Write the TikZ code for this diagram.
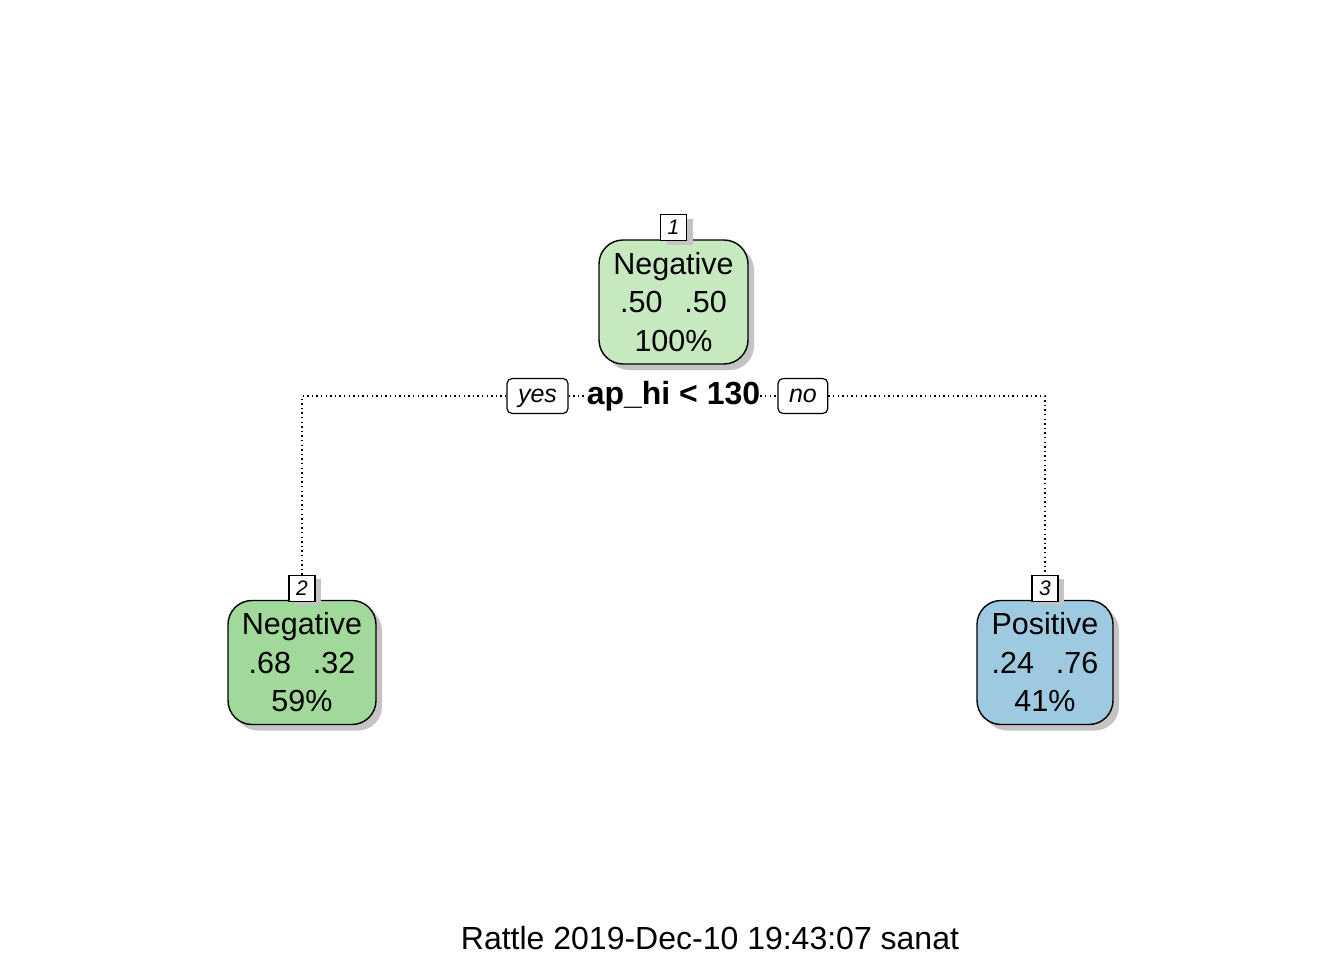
\documentclass[tikz,border=0pt]{standalone}
\usepackage{fontspec}
\setmainfont{Liberation Sans}
\usetikzlibrary{positioning, shadows}
\definecolor{leafpale}{HTML}{C7E9C0}
\definecolor{leafgreen}{HTML}{A1D99B}
\definecolor{leafblue}{HTML}{9ECAE1}
\definecolor{shadegray}{HTML}{C4C4C4}
\newcommand{\pgap}{\hspace{0.72em}}
\tikzset{
  tnode/.style={draw=black, rounded corners=24pt, align=center, inner sep=0pt,
    minimum height=124pt, line width=1.4pt, font=\fontsize{30.5}{38.5}\selectfont,
    drop shadow={shadow xshift=6pt, shadow yshift=-6pt, fill=shadegray, opacity=1}},
  numbox/.style={draw=black, fill=white, inner sep=0pt, minimum width=26pt, minimum height=26pt,
    line width=1.2pt, font=\fontsize{21}{21}\selectfont\itshape,
    drop shadow={shadow xshift=6pt, shadow yshift=-4pt, fill=shadegray, opacity=1}},
  ansbox/.style={draw=black, fill=white, rounded corners=5pt, inner xsep=11pt, inner ysep=0pt,
    text height=17pt, text depth=5pt, minimum height=35pt, line width=1.2pt,
    font=\fontsize{25}{25}\selectfont\itshape},
  dotline/.style={draw=black, line width=1.4pt, dash pattern=on 1.4pt off 3.2pt}
}
\begin{document}
\begin{tikzpicture}[x=1pt, y=-1pt]
\useasboundingbox (0,0) rectangle (1344,960);
% tree nodes
\node[tnode, fill=leafpale, minimum width=149pt] (root) at (673.5,302) {Negative\\.50\pgap.50\\100\%};
\node[numbox, above=-2pt of root] (lab1) {1};
\node[tnode, fill=leafgreen, minimum width=148pt] (left) at (302,662.5) {Negative\\.68\pgap.32\\59\%};
\node[numbox, above=-2pt of left] (lab2) {2};
\node[tnode, fill=leafblue, minimum width=136pt] (right) at (1045,662.5) {Positive\\.24\pgap.76\\41\%};
\node[numbox, above=-2pt of right] (lab3) {3};
% split
\node[inner sep=0pt, font=\fontsize{32}{32}\selectfont\bfseries] (split) at (673.5,396) {ap\_hi < 130};
\node[ansbox, left=18pt of split] (yes) {yes};
\node[ansbox, right=17pt of split] (no) {no};
\draw[dotline] (yes.west) -| (lab2.north);
\draw[dotline] (yes.east) -- (split.west);
\draw[dotline] (split.east) -- (no.west);
\draw[dotline] (no.east) -| (lab3.north);
% footer
\node[font=\fontsize{32}{32}\selectfont] (stamp) at (710,938) {Rattle 2019-Dec-10 19:43:07 sanat};
\end{tikzpicture}
\end{document}
